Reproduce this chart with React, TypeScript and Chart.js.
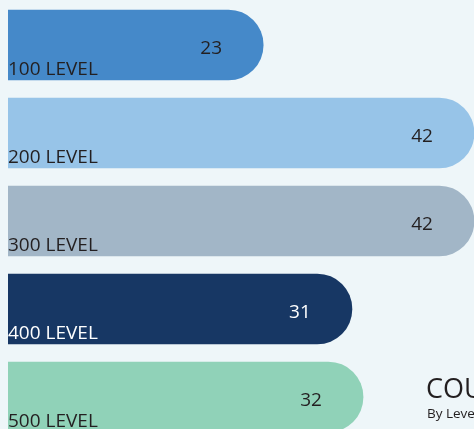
import React, { useEffect, useRef } from "react";
import { Chart, registerables } from "chart.js";

Chart.register(...registerables);

const categories = ["100 LEVEL", "200 LEVEL", "300 LEVEL", "400 LEVEL", "500 LEVEL"];
const values = [23, 42, 42, 31, 32];
const barColors = ["#4589c9", "#97c4e8", "#a2b6c7", "#173764", "#90d2b8"];
const textColors = ["#231f20", "#231f20", "#231f20", "#ffffff", "#231f20"];
const titleText = "COURSES";
const subtitleText = "By Level";

const FONT = "'Open Sans', 'Noto Sans', sans-serif";

const labelPlugin = {
  id: "barLabels",
  afterDatasetsDraw(chart: any) {
    const ctx = chart.ctx;
    const meta = chart.getDatasetMeta(0);
    ctx.save();
    meta.data.forEach((bar: any, i: number) => {
      ctx.fillStyle = textColors[i];
      ctx.textBaseline = "alphabetic";
      ctx.font = `19px ${FONT}`;
      ctx.textAlign = "left";
      ctx.fillText(categories[i], chart.chartArea.left, bar.y + 30);
      ctx.font = `19px ${FONT}`;
      ctx.textAlign = "center";
      ctx.fillText(String(values[i]), bar.x - 52, bar.y + 9);
    });
    ctx.fillStyle = "#231f20";
    ctx.textAlign = "left";
    ctx.font = `27px ${FONT}`;
    ctx.fillText(titleText, 426, 398);
    ctx.font = `13.5px ${FONT}`;
    ctx.fillText(subtitleText, 427, 418);
    ctx.restore();
  },
};

export default function App() {
  const ref = useRef<HTMLCanvasElement>(null);
  useEffect(() => {
    if (!ref.current) return;
    const chart = new Chart(ref.current, {
      type: "bar",
      data: {
        labels: categories,
        datasets: [
          {
            data: values,
            backgroundColor: barColors,
            borderRadius: 35,
            borderSkipped: "start",
            barThickness: 70,
          },
        ],
      },
      options: {
        indexAxis: "y",
        responsive: false,
        maintainAspectRatio: false,
        animation: false,
        layout: { padding: { left: 8, top: 1, right: 0, bottom: 0 } },
        plugins: { legend: { display: false }, tooltip: { enabled: false } },
        scales: {
          x: { display: false, min: 0, max: 42 },
          y: { display: false },
        },
      },
      plugins: [labelPlugin],
    } as any);
    return () => chart.destroy();
  }, []);
  return (
    <div
      style={{
        position: "fixed",
        left: 0,
        top: 0,
        width: 474,
        height: 429,
        overflow: "hidden",
        background: "#eef6f9",
      }}
    >
      <canvas ref={ref} width={474} height={441} style={{ display: "block", width: 474, height: 441 }} />
    </div>
  );
}
